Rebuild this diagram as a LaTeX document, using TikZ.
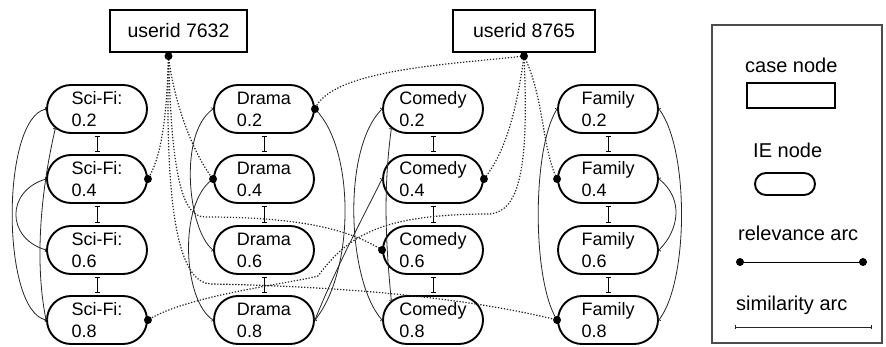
\documentclass[tikz,border=0pt]{standalone}
\usepackage{fontspec}
\setmainfont{Liberation Sans}
\usetikzlibrary{arrows.meta,shapes.misc}
\begin{document}
\begin{tikzpicture}[x=1pt,y=-1pt,
  casebox/.style={draw,line width=2.2pt,minimum height=42pt,inner sep=0pt,
    font=\fontsize{19.5}{22}\selectfont},
  ienode/.style={draw,line width=1.9pt,rounded rectangle,minimum width=100pt,
    minimum height=48pt,inner sep=0pt,align=left,font=\fontsize{18}{22}\selectfont},
  rel/.style={line width=1.2pt,dash pattern=on 1.3pt off 1.7pt,black!85},
  reldot/.style={circle,fill=black,inner sep=0pt,minimum size=8pt},
  simshort/.style={line width=0.9pt,{Bar[width=5pt,line width=0.9pt]}-{Bar[width=5pt,line width=0.9pt]},
    shorten <=2pt,shorten >=2pt},
  simlong/.style={line width=0.8pt,black!85,{Bar[width=4pt,line width=0.8pt]}-{Bar[width=4pt,line width=0.8pt]}},
  legtext/.style={inner sep=0pt,anchor=west,font=\fontsize{20}{24}\selectfont},
]
\useasboundingbox (0,0) rectangle (886,347);

% case nodes
\node[casebox,minimum width=137pt] (c1) at (178.5,31) {userid 7632};
\node[casebox,minimum width=142pt] (c2) at (524,31) {userid 8765};
\coordinate (r1) at ([xshift=-10pt,yshift=-3pt]c1.south);
\coordinate (r2) at ([yshift=-3pt]c2.south);

% IE nodes
\node[ienode] (s1) at (97,109) {Sci-Fi:\\0.2};
\node[ienode] (s2) at (97,179) {Sci-Fi:\\0.4};
\node[ienode] (s3) at (97,250) {Sci-Fi:\\0.6};
\node[ienode] (s4) at (97,320) {Sci-Fi:\\0.8};
\node[ienode] (d1) at (264,109) {Drama\\0.2};
\node[ienode] (d2) at (264,179) {Drama\\0.4};
\node[ienode] (d3) at (264,250) {Drama\\0.6};
\node[ienode] (d4) at (264,320) {Drama\\0.8};
\node[ienode] (m1) at (433,109) {Comedy\\0.2};
\node[ienode] (m2) at (433,179) {Comedy\\0.4};
\node[ienode] (m3) at (433,250) {Comedy\\0.6};
\node[ienode] (m4) at (433,320) {Comedy\\0.8};
\node[ienode] (f1) at (608,109) {Family\\0.2};
\node[ienode] (f2) at (608,179) {Family\\0.4};
\node[ienode] (f3) at (608,250) {Family\\0.6};
\node[ienode] (f4) at (608,320) {Family\\0.8};

% similarity arcs between neighbouring values
\foreach \c in {s,d,m,f}{
  \draw[simshort] (\c1.south) -- (\c2.north);
  \draw[simshort] (\c2.south) -- (\c3.north);
  \draw[simshort] (\c3.south) -- (\c4.north);
}

% longer similarity arcs
\draw[simlong] (s1.west) .. controls +(-45,10) and +(-45,-10) .. (s4.west);
\draw[simlong] (s2.west) .. controls +(-40,12) and +(-40,-12) .. (s3.west);
\draw[simlong] (s1.205) .. controls +(-14,60) and +(-12,-60) .. (s4.west);
\draw[simlong] (d1.west) .. controls +(-35,25) and +(-25,-20) .. (d3.west);
\draw[simlong] (d2.west) .. controls +(-35,25) and +(-30,-20) .. (d4.west);
\draw[simlong] (d1.east) .. controls +(40,40) and +(40,-50) .. (d4.east);
\draw[simlong] (m1.west) .. controls +(-40,40) and +(-35,-40) .. (m4.west);
\draw[simlong] (m1.205) .. controls +(-8,60) and +(-6,-60) .. (m4.155);
\draw[simlong] (m2.west) .. controls +(-20,40) and +(20,-50) .. (d4.east);
\draw[simlong] (f1.west) .. controls +(-25,40) and +(-25,-40) .. (f4.west);
\draw[simlong] (f1.east) .. controls +(30,40) and +(30,-40) .. (f4.east);
\draw[simlong] (f2.east) .. controls +(25,20) and +(20,-20) .. (f3.east);

% bends of the longer relevance arcs
\coordinate (w1) at (205,217);
\coordinate (w2) at (212,284);
\coordinate (w3) at (490,214);
\coordinate (w4) at (318,276);

% relevance arcs of userid 7632
\draw[rel] (r1) .. controls +(-2,70) and +(12,-20) .. (s2.east);
\draw[rel] (r1) .. controls +(5,45) and +(-20,-25) .. (d2.west);
\draw[rel] (r1) .. controls +(3,110) and +(-25,0) .. (w1)
               .. controls +(90,0) and +(-35,-22) .. (m3.west);
\draw[rel] (r1) .. controls +(-4,170) and +(-30,0) .. (w2)
               .. controls +(150,3) and +(-80,-20) .. (f4.west);
% relevance arcs of userid 8765
\draw[rel] (r2) .. controls +(-70,8) and +(16,-40) .. (d1.east);
\draw[rel] (r2) .. controls +(-8,60) and +(20,-25) .. (m2.east);
\draw[rel] (r2) .. controls +(20,40) and +(-15,-30) .. (f2.west);
\draw[rel] (r2) .. controls +(5,110) and +(30,-3) .. (w3)
               .. controls +(-110,0) and +(30,-40) .. (w4)
               .. controls +(-25,7) and +(40,-25) .. (s4.east);

% relevance arc end points
\foreach \p in {r1,r2,s2.east,s4.east,d1.east,d2.west,m2.east,m3.west,f2.west,f4.west}
  \node[reldot] at (\p) {};

% legend
\draw[line width=1.2pt,black!70] (712,25) rectangle (882,343);
\node[legtext] (lcase) at (745,65) {case node};
\node[draw,line width=2pt,minimum width=88pt,minimum height=25pt,inner sep=0pt] (lbox) at (791,95.5) {};
\node[legtext] (lie) at (753,150) {IE node};
\node[draw,line width=1.9pt,rounded rectangle,minimum width=60pt,minimum height=22pt,inner sep=0pt] (lround) at (785,184) {};
\node[legtext] (lrel) at (738,233) {relevance arc};
\coordinate (la) at (740,262);
\coordinate (lb) at (863,262);
\draw[line width=0.8pt] (la) -- (lb);
\node[reldot] at (la) {};
\node[reldot] at (lb) {};
\node[legtext] (lsim) at (736,305) {similarity arc};
\coordinate (lc) at (735,327);
\coordinate (ld) at (872,327);
\draw[simlong] (lc) -- (ld);
\end{tikzpicture}
\end{document}
